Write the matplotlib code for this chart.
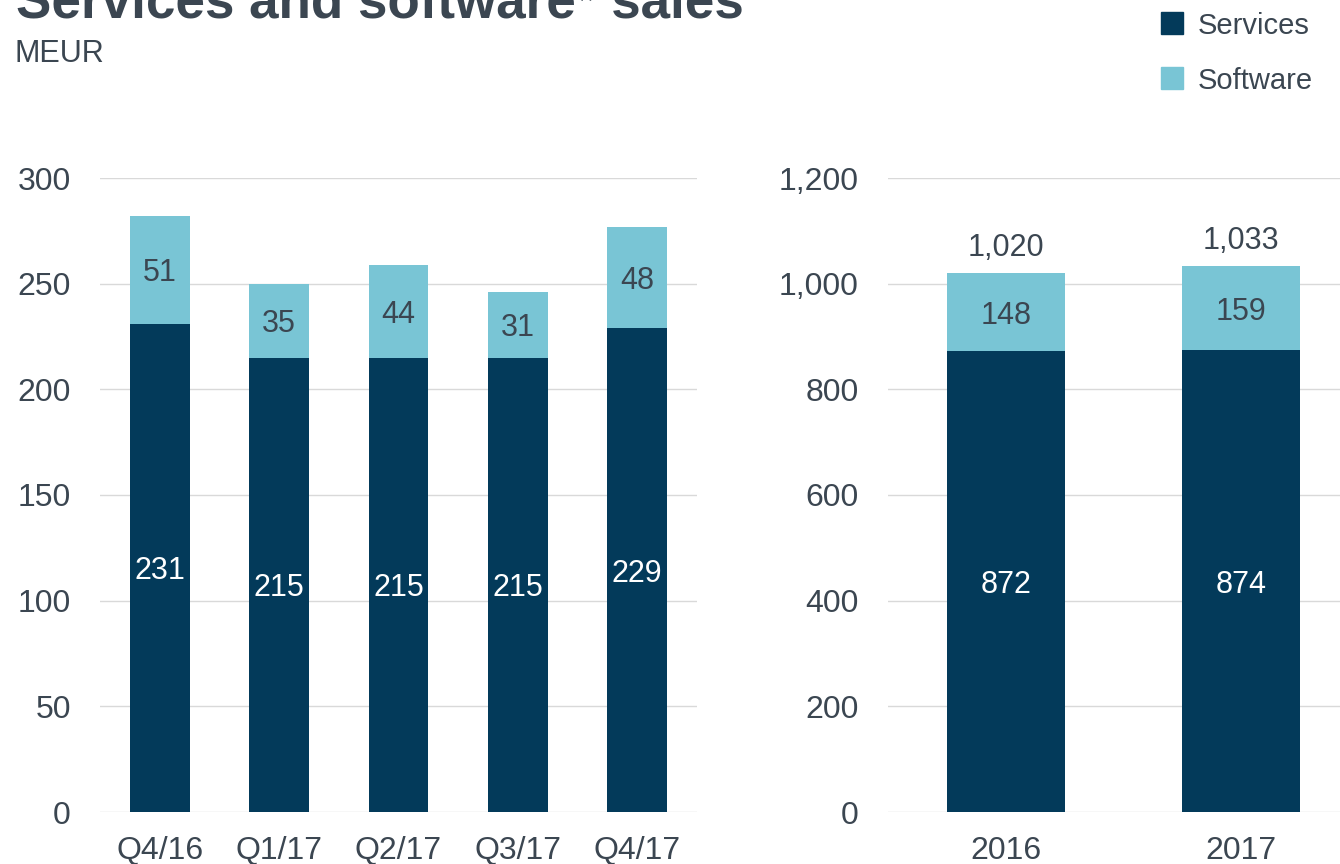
import matplotlib
matplotlib.use('Agg')
import matplotlib.pyplot as plt
from matplotlib.patches import Rectangle
from matplotlib.ticker import FuncFormatter

plt.rcParams['font.family'] = ['Liberation Sans', 'DejaVu Sans']

# data
quarters = ['Q4/16', 'Q1/17', 'Q2/17', 'Q3/17', 'Q4/17']
q_services = [231, 215, 215, 215, 229]
q_software = [51, 35, 44, 31, 48]

years = ['2016', '2017']
y_services = [872, 874]
y_software = [148, 159]

navy = '#033a5a'
light = '#79c5d5'
txt = '#3b4651'
grid = '#d9d9d9'

fig = plt.figure(figsize=(13.4, 8.64), dpi=100)

# title is cut at the top edge in the original
fig.text(0.012, 1 - 17 / 864, 'Services and software* sales', fontsize=38.2,
         fontweight='bold', color=txt, va='baseline', ha='left')
fig.text(0.011, 1 - 62 / 864, 'MEUR', fontsize=22, color=txt,
         va='baseline', ha='left')

# hand-made legend at top right
for i, (lab, col) in enumerate([('Services', navy), ('Software', light)]):
    top = 12 + i * 55
    fig.patches.append(Rectangle((1161 / 1340, 1 - (top + 22) / 864),
                                 22 / 1340, 22 / 864, color=col,
                                 transform=fig.transFigure, figure=fig))
    fig.text(1198 / 1340, 1 - (top + 22) / 864, lab, fontsize=21,
             color=txt, va='baseline', ha='left')


def style(ax, ticks):
    for s in ax.spines.values():
        s.set_visible(False)
    ax.set_yticks(ticks)
    ax.yaxis.grid(True, color=grid, linewidth=1)
    ax.set_axisbelow(True)
    ax.tick_params(length=0, labelsize=23, labelcolor=txt)
    ax.tick_params(axis='y', pad=21)
    ax.tick_params(axis='x', pad=17)


# quarterly panel
ax1 = fig.add_axes([100 / 1340, 1 - 812 / 864, 597 / 1340, 634 / 864])
x1 = range(len(quarters))
ax1.bar(x1, q_services, width=0.5, color=navy)
ax1.bar(x1, q_software, width=0.5, bottom=q_services, color=light)
for i in x1:
    ax1.text(i, q_services[i] / 2, str(q_services[i]), ha='center',
             va='center_baseline', color='white', fontsize=22)
    ax1.text(i, q_services[i] + q_software[i] / 2, str(q_software[i]),
             ha='center', va='center_baseline', color=txt, fontsize=22)
ax1.set_xlim(-0.5, 4.5)
ax1.set_ylim(0, 300)
ax1.set_xticks(list(x1))
ax1.set_xticklabels(quarters)
style(ax1, range(0, 301, 50))

# annual panel
ax2 = fig.add_axes([888 / 1340, 1 - 812 / 864, 452 / 1340, 634 / 864])
x2 = range(len(years))
ax2.bar(x2, y_services, width=0.5, color=navy)
ax2.bar(x2, y_software, width=0.5, bottom=y_services, color=light)
for i in x2:
    tot = y_services[i] + y_software[i]
    ax2.text(i, y_services[i] / 2, str(y_services[i]), ha='center',
             va='center_baseline', color='white', fontsize=22)
    ax2.text(i, y_services[i] + y_software[i] / 2, str(y_software[i]),
             ha='center', va='center_baseline', color=txt, fontsize=22)
    ax2.text(i, tot + 55, f'{tot:,}', ha='center', va='center_baseline',
             color=txt, fontsize=22)
ax2.set_xlim(-0.5, 1.42)
ax2.set_ylim(0, 1200)
ax2.set_xticks(list(x2))
ax2.set_xticklabels(years)
ax2.yaxis.set_major_formatter(FuncFormatter(lambda v, p: f'{int(v):,}'))
style(ax2, range(0, 1201, 200))

fig.savefig('out.png', dpi=100)
